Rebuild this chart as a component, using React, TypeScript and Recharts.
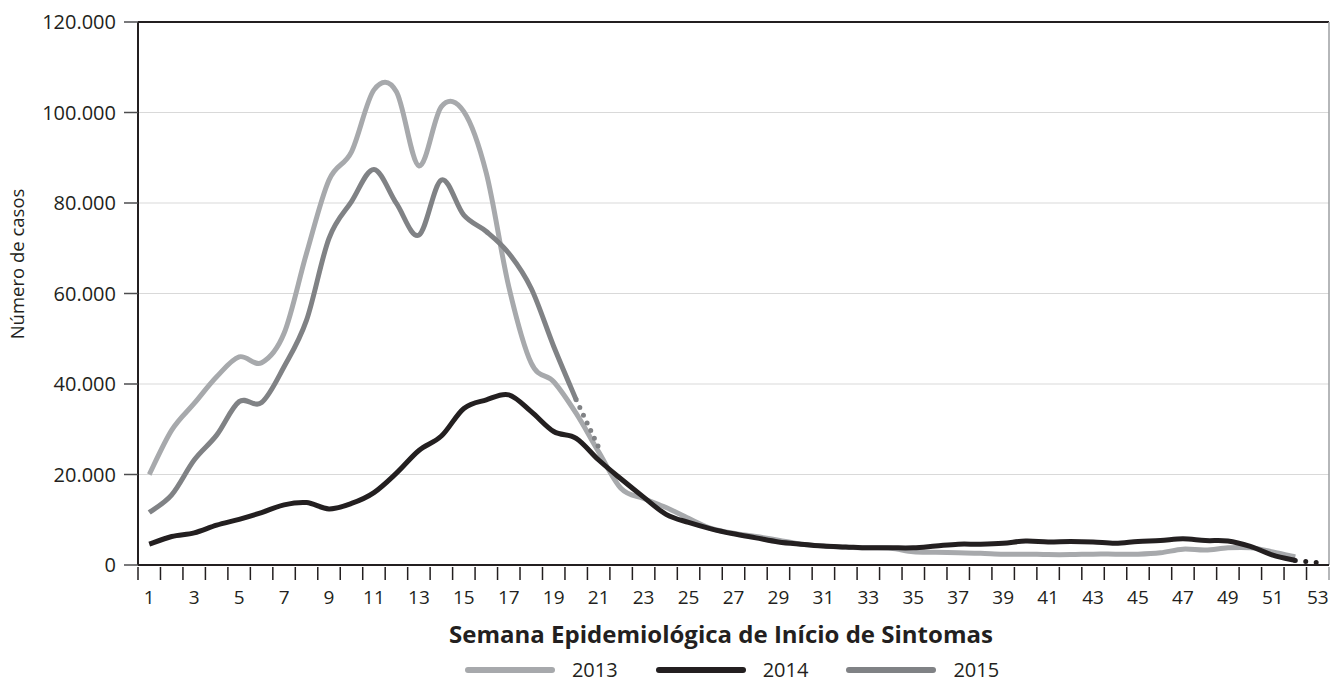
import React from "react";
import {
  LineChart,
  Line,
  XAxis,
  YAxis,
  CartesianGrid,
  ReferenceLine,
  Legend,
} from "recharts";

// semanas epidemiológicas (eixo X)
const weeks = [
  1, 2, 3, 4, 5, 6, 7, 8, 9, 10, 11, 12, 13, 14, 15, 16, 17, 18, 19, 20, 21, 22, 23, 24, 25, 26,
  27, 28, 29, 30, 31, 32, 33, 34, 35, 36, 37, 38, 39, 40, 41, 42, 43, 44, 45, 46, 47, 48, 49, 50,
  51, 52, 53,
];

const cases2013 = [
  20000, 29800, 35700, 41600, 46000, 44700, 51200, 68900, 85100, 91300, 105000, 104600, 88200,
  101300, 100200, 86600, 61500, 44600, 40500, 33500, 25000, 16900, 14700, 12700, 10300, 8100,
  7000, 6300, 5500, 4600, 4200, 3900, 3800, 3700, 2900, 2800, 2700, 2600, 2400, 2400, 2300, 2300,
  2400, 2400, 2400, 2700, 3500, 3300, 3800, 3800, 2900, 1800,
];

const cases2014 = [
  4600, 6300, 7100, 8800, 10100, 11600, 13300, 13800, 12400, 13600, 16000, 20300, 25300, 28500,
  34600, 36500, 37600, 33900, 29500, 28000, 23200, 19000, 15000, 11200, 9400, 8000, 6900, 6000,
  5100, 4600, 4200, 4000, 3800, 3800, 3800, 4200, 4600, 4600, 4800, 5300, 5100, 5200, 5100, 4800,
  5200, 5400, 5800, 5400, 5300, 4100, 2200, 1000,
];

const cases2015 = [
  11600, 15500, 23200, 28700, 36100, 35900, 43800, 54100, 72200, 80300, 87400, 79900, 72900,
  85100, 77300, 73700, 68900, 61100, 48300, 36500,
];

// trechos pontilhados (dados incompletos)
const tail2014Weeks = [52, 53];
const tail2014 = [1000, 500];
const tail2015Weeks = [20, 21];
const tail2015 = [36500, 26000];

const yTicks = [0, 20000, 40000, 60000, 80000, 100000, 120000];

const seriesInfo = [
  { name: "2013", color: "#a7a9ac" },
  { name: "2014", color: "#231f20" },
  { name: "2015", color: "#808285" },
];

const CHART_W = 1330;
const CHART_H = 681;
const Y_AXIS_W = 138;
const MARGIN_RIGHT = 1;
const BAND = (CHART_W - Y_AXIS_W - MARGIN_RIGHT) / weeks.length;
const FONT = "'Open Sans', 'Noto Sans', sans-serif";
const TEXT = "#231f20";

const data = weeks.map((w, i) => {
  const i14 = tail2014Weeks.indexOf(w);
  const i15 = tail2015Weeks.indexOf(w);
  return {
    week: w,
    y2013: i < cases2013.length ? cases2013[i] : null,
    y2014: i < cases2014.length ? cases2014[i] : null,
    y2015: i < cases2015.length ? cases2015[i] : null,
    t2014: i14 >= 0 ? tail2014[i14] : null,
    t2015: i15 >= 0 ? tail2015[i15] : null,
  };
});

const fmtY = (v: number) => (v === 0 ? "0" : `${v / 1000}.000`);

// suavização tipo Excel (Catmull-Rom -> Bezier)
function smoothCurve(context: any) {
  let pts: number[][] = [];
  return {
    areaStart() {},
    areaEnd() {},
    lineStart() {
      pts = [];
    },
    point(x: number, y: number) {
      pts.push([+x, +y]);
    },
    lineEnd() {
      if (!pts.length) return;
      context.moveTo(pts[0][0], pts[0][1]);
      for (let i = 0; i < pts.length - 1; i++) {
        const p0 = pts[i - 1] || pts[i];
        const p1 = pts[i];
        const p2 = pts[i + 1];
        const p3 = pts[i + 2] || p2;
        context.bezierCurveTo(
          p1[0] + (p2[0] - p0[0]) / 6,
          p1[1] + (p2[1] - p0[1]) / 6,
          p2[0] - (p3[0] - p1[0]) / 6,
          p2[1] - (p3[1] - p1[1]) / 6,
          p2[0],
          p2[1]
        );
      }
    },
  };
}

function WeekTick(props: any) {
  const { x, y, payload } = props;
  const w = payload.value as number;
  return (
    <g>
      <line x1={x - BAND / 2} x2={x - BAND / 2} y1={y} y2={y + 13} stroke={TEXT} strokeWidth={1.5} />
      {w === weeks[weeks.length - 1] && (
        <line x1={x + BAND / 2} x2={x + BAND / 2} y1={y} y2={y + 13} stroke="#9d9fa2" strokeWidth={1.5} />
      )}
      {w % 2 === 1 && (
        <text x={x} y={y + 37} textAnchor="middle" fontSize={19} fill={TEXT} fontFamily={FONT}>
          {w}
        </text>
      )}
    </g>
  );
}

function XTitle() {
  return (
    <text x={721} y={643} textAnchor="middle" fontSize={24} fontWeight={700} fill={TEXT} fontFamily={FONT}>
      Semana Epidemiológica de Início de Sintomas
    </text>
  );
}

function YTitle() {
  return (
    <text
      x={0}
      y={0}
      transform="translate(24 264) rotate(-90)"
      textAnchor="middle"
      fontSize={18.5}
      fill={TEXT}
      fontFamily={FONT}
    >
      Número de casos
    </text>
  );
}

function LegendBox() {
  return (
    <div style={{ display: "flex", justifyContent: "center", alignItems: "center", fontFamily: FONT }}>
      {seriesInfo.map((s, i) => (
        <div key={s.name} style={{ display: "flex", alignItems: "center", marginLeft: i === 0 ? 0 : 41 }}>
          <svg width={90} height={10} style={{ margin: "0 -3px" }}>
            <line x1={3} x2={87} y1={5} y2={5} stroke={s.color} strokeWidth={6} strokeLinecap="round" />
          </svg>
          <span style={{ marginLeft: 20, fontSize: 20, lineHeight: "22px", color: TEXT }}>{s.name}</span>
        </div>
      ))}
    </div>
  );
}

export default function App() {
  return (
    <div style={{ position: "absolute", left: 0, top: 0, background: "#fff" }}>
      <LineChart
        width={CHART_W}
        height={CHART_H}
        data={data}
        margin={{ top: 22, right: MARGIN_RIGHT, left: 0, bottom: 0 }}
      >
        <CartesianGrid vertical={false} stroke="#d9d9d9" strokeWidth={1} />
        <XAxis
          dataKey="week"
          type="number"
          domain={[0.5, 53.5]}
          ticks={weeks}
          interval={0}
          height={116}
          tickSize={0}
          tickLine={false}
          axisLine={{ stroke: TEXT, strokeWidth: 2 }}
          tick={<WeekTick />}
          label={<XTitle />}
        />
        <YAxis
          width={Y_AXIS_W}
          domain={[0, 120000]}
          ticks={yTicks}
          interval={0}
          tickFormatter={fmtY}
          tickSize={14}
          tickMargin={8}
          tickLine={{ stroke: "#4d4d4f", strokeWidth: 1.5 }}
          axisLine={{ stroke: TEXT, strokeWidth: 2 }}
          tick={{ fontSize: 20, fill: TEXT, fontFamily: FONT }}
          label={<YTitle />}
        />
        <ReferenceLine y={120000} stroke={TEXT} strokeWidth={2} />
        <ReferenceLine x={53.5} stroke="#9d9fa2" strokeWidth={1.5} />
        <Line type={smoothCurve as any} dataKey="y2013" name="2013" stroke={seriesInfo[0].color} strokeWidth={5} dot={false} isAnimationActive={false} />
        <Line type={smoothCurve as any} dataKey="y2015" name="2015" stroke={seriesInfo[2].color} strokeWidth={5} dot={false} isAnimationActive={false} />
        <Line type={smoothCurve as any} dataKey="y2014" name="2014" stroke={seriesInfo[1].color} strokeWidth={5} dot={false} isAnimationActive={false} />
        <Line type="linear" dataKey="t2015" stroke={seriesInfo[2].color} strokeWidth={5} strokeDasharray="0 8.5" strokeLinecap="round" dot={false} legendType="none" isAnimationActive={false} />
        <Line type="linear" dataKey="t2014" stroke={seriesInfo[1].color} strokeWidth={5} strokeDasharray="0 10.5" strokeLinecap="round" dot={false} legendType="none" isAnimationActive={false} />
        <Legend
          verticalAlign="middle"
          layout="horizontal"
          content={() => <LegendBox />}
          wrapperStyle={{ top: 659, left: Y_AXIS_W, width: CHART_W - Y_AXIS_W - MARGIN_RIGHT }}
        />
      </LineChart>
    </div>
  );
}
